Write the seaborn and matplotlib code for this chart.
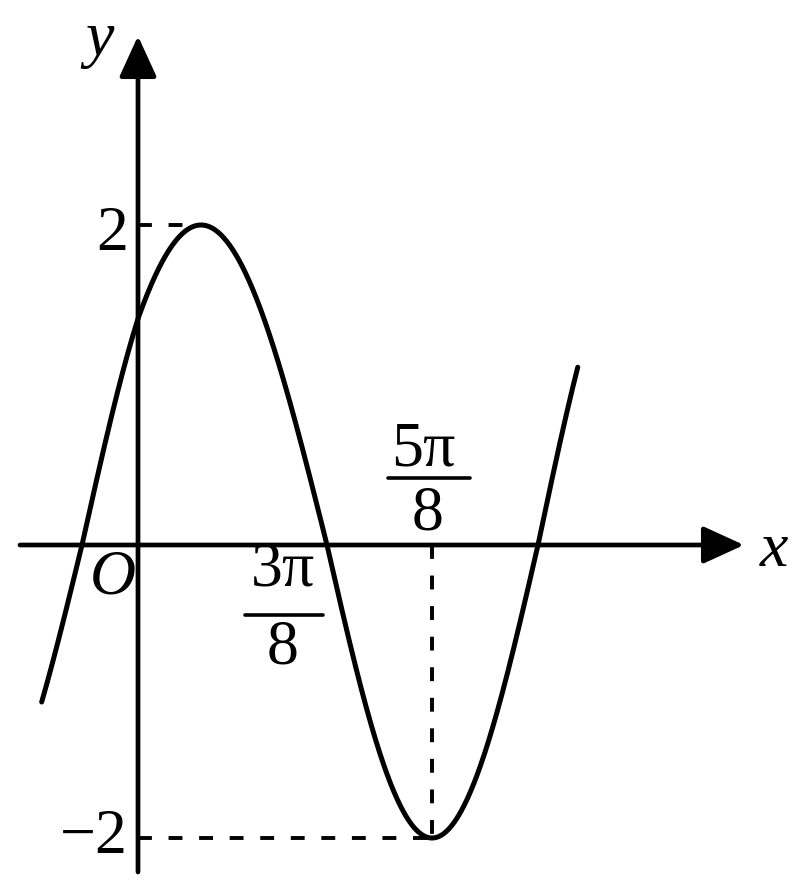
import numpy as np
import pandas as pd
import matplotlib
matplotlib.use("Agg")
import matplotlib.pyplot as plt
import seaborn as sns

# ---- data ----
amplitude = 2.0          # max / min value of y
omega = 2.0              # period pi (zero at 3pi/8, minimum at 5pi/8)
phase = np.pi / 4
curve_x_start = -1.72 * np.pi / 8
curve_x_end = 7.75 * np.pi / 8
x_marks = [3 * np.pi / 8, 5 * np.pi / 8]          # marked x values
x_mark_num = ["3π", "5π"]
x_mark_den = ["8", "8"]
y_marks = [2, -2]
y_mark_labels = ["2", "\u22122"]
x_peak = np.pi / 8        # where y = 2
x_trough = 5 * np.pi / 8  # where y = -2

# ---- hand-drawn (scanned) axis calibration ----
W, H = 794, 881
xk = np.array([-20, -1, 0, 3, 5, 7, 30]) * np.pi / 8
xp = np.array([82 - 19 * 56, 82, 138, 327, 432, 538, 538 + 23 * 53], float)
yk = np.array([-10, -2, 0, 2, 10], float)
yp = np.array([838 + 8 * 146.5, 838, 545, 225, 225 - 8 * 160], float)


def xf(x):
    return np.interp(x, xk, xp)


def xi(p):
    return np.interp(p, xp, xk)


def yf(y):
    return H - np.interp(y, yk, yp)


def yi(p):
    return np.interp(H - p, yp[::-1], yk[::-1])


sns.set_style("white")
plt.rcParams["font.family"] = ["Liberation Serif", "DejaVu Serif"]
plt.rcParams["lines.scale_dashes"] = False
plt.rcParams["text.color"] = "black"

fig = plt.figure(figsize=(W / 100, H / 100), dpi=100)
ax = fig.add_axes([0, 0, 1, 1])
ax.set_xscale("function", functions=(xf, xi))
ax.set_yscale("function", functions=(yf, yi))
ax.set_xlim(xi(0), xi(W))
ax.set_ylim(yi(0), yi(H))
ax.axis("off")


def P(px, py):
    """pixel position (from top-left) -> data coordinates"""
    return float(xi(px)), float(yi(H - py))


# curve
xs = np.linspace(curve_x_start, curve_x_end, 600)
df = pd.DataFrame({"x": xs, "y": amplitude * np.sin(omega * xs + phase)})
sns.lineplot(data=df, x="x", y="y", ax=ax, color="black", lw=3.6,
             sort=False, estimator=None)

# axes with arrows
ax_x0, _ = P(20, 545)
ax_x1, _ = P(744, 545)
_, ax_y0 = P(139, 872)
_, ax_y1 = P(139, 36)
arrow = dict(arrowstyle="-|>,head_length=0.7,head_width=0.32", color="black",
             lw=3.4, shrinkA=0, shrinkB=0, mutation_scale=36)
ax.annotate("", xy=(ax_x1, 0), xytext=(ax_x0, 0), arrowprops=arrow)
ax.annotate("", xy=(0, ax_y1), xytext=(0, ax_y0), arrowprops=arrow)

# dashed guides
dash = dict(color="black", lw=2.8, dashes=(10, 12))
ax.plot([0, x_peak], [amplitude, amplitude], **dash)
ax.plot([0, x_trough], [-amplitude, -amplitude], **dash)
ax.plot([x_trough, x_trough], [0, -amplitude], **dash)

fs = 46
tkw = dict(textcoords="offset pixels", ha="center", va="center", fontsize=fs,
           color="black")

# axis names
ax.annotate("x", xy=(ax_x1, 0), xytext=(30, -6), style="italic", **tkw)
ax.annotate("y", xy=(0, ax_y1), xytext=(-38, -4), style="italic", **tkw)
ax.annotate("O", xy=(0, 0), xytext=(-25, -33), style="italic", **tkw)

# y marks
ax.annotate(y_mark_labels[0], xy=(0, y_marks[0]), xytext=(-26, -10), **tkw)
ax.annotate(y_mark_labels[1], xy=(0, y_marks[1]), xytext=(-44, 0), **tkw)

# x marks as stacked fractions
frac_layout = [  # numerator offset, bar offsets, denominator offset
    ((-44, -26), (-82, -4, -70), (-44, -104)),
    ((-9, 95), (-44, 38, 67), (-4, 31)),
]
for xm, num, den, (no, bo, do) in zip(x_marks, x_mark_num, x_mark_den, frac_layout):
    ax.annotate(num, xy=(xm, 0), xytext=no, **tkw)
    ax.annotate(den, xy=(xm, 0), xytext=do, **tkw)
    bx0, by = P(xf(xm) + bo[0], 545 - bo[2])
    bx1, _ = P(xf(xm) + bo[1], 545 - bo[2])
    ax.plot([bx0, bx1], [by, by], color="black", lw=2.6)

fig.savefig("out.png", dpi=100)
